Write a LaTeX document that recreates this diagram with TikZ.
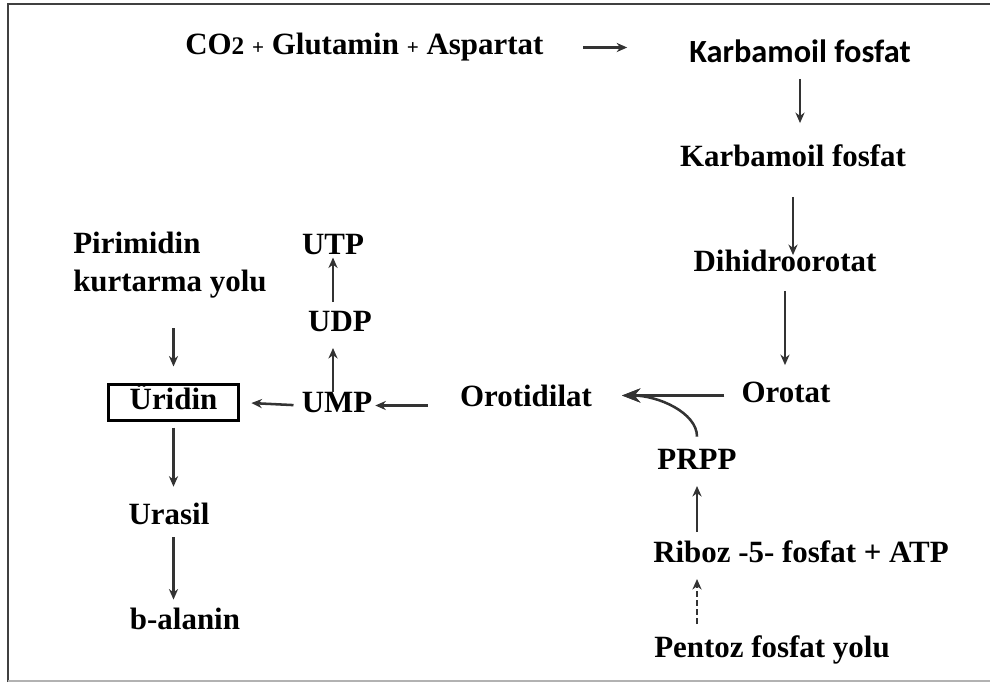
\documentclass[tikz,border=0pt]{standalone}
\usepackage{fontspec}
\setmainfont{Liberation Serif}
\newfontfamily\calfont{Carlito}[BoldFont={Carlito Bold}]
\usetikzlibrary{arrows.meta}
\definecolor{arrowgray}{HTML}{333333}
\begin{document}
\begin{tikzpicture}[x=0.025cm,y=-0.025cm,
		lbl/.style={inner sep=0pt,text height=15pt,text depth=4.4pt,font=\fontsize{22}{27}\selectfont\bfseries},
		arr/.style={-{Stealth[length=7.5pt,width=6.5pt]},line width=1.8pt,arrowgray},
		bigarr/.style={-{Stealth[length=13pt,width=10pt]},line width=1.8pt,arrowgray}]
	\useasboundingbox (0,0) rectangle (990,682);
	% frame
	\draw[black!75,line width=1.6pt] (8,682) -- (8,4) -- (990,4);
	\draw[black!30,line width=1.2pt] (8,681) -- (990,681);
	% de novo path
	\node[lbl,anchor=west] (co2) at (185,47.5) {CO{\fontsize{18}{20}\selectfont 2} {\fontsize{15}{15}\selectfont +} Glutamin {\fontsize{15}{15}\selectfont +} Aspartat};
	\node[lbl,font=\fontsize{23}{27}\selectfont\calfont\bfseries] (kf1) at (800,55.5) {Karbamoil fosfat};
	\node[lbl] (kf2) at (793,159.5) {Karbamoil fosfat};
	\node[lbl] (dih) at (785,264.5) {Dihidroorotat};
	\node[lbl] (orot) at (786,395.5) {Orotat};
	\node[lbl] (ortd) at (526,399.5) {Orotidilat};
	\node[lbl] (prpp) at (697,462.5) {PRPP};
	\node[lbl] (ribo) at (801,555.5) {Riboz -5- fosfat + ATP};
	\node[lbl] (pent) at (772,650.5) {Pentoz fosfat yolu};
	\coordinate (jn) at (622,395.5);
	\draw[arr,shorten <=28pt,shorten >=44pt] (co2.east) -- (co2.east -| kf1.west);
	\draw[arr,shorten <=6.8pt,shorten >=16pt] (kf1.south) -- (kf1.south |- kf2.north);
	\draw[arr,shorten <=16.7pt,shorten >=-3.2pt] (kf2.south) -- (kf2.south |- dih.north);
	\draw[arr,shorten <=8.9pt,shorten >=11.7pt] (dih.south) -- (dih.south |- orot.north);
	\draw[bigarr,shorten <=12pt] (orot.west) -- (jn);
	\draw[bigarr,shorten <=8.5pt] (prpp.north) to[out=90,in=0] (jn);
	\draw[arr,shorten <=6.8pt,shorten >=6.8pt] (prpp |- ribo.north) -- (prpp.south);
	\draw[arr,dash pattern=on 4pt off 2.5pt,shorten <=8.9pt,shorten >=6.8pt] (prpp |- pent.north) -- (prpp |- ribo.south);
	% nucleotides
	\node[lbl] (ump) at (337,405.5) {UMP};
	\node[lbl] (udp) at (340,324.5) {UDP};
	\node[lbl] (utp) at (333,247.5) {UTP};
	\draw[arr,shorten <=22.8pt,shorten >=2pt] (ortd.west |- ump) -- (ump.east);
	\draw[arr,shorten >=6.8pt] (utp |- ump.north) -- (utp |- udp.south);
	\draw[arr,shorten <=6pt,shorten >=-2.8pt] (utp |- udp.north) -- (utp.south);
	% salvage and degradation
	\node[lbl,draw=black,line width=2.2pt,minimum width=93pt,minimum height=25pt] (urid) at (173.5,402.5) {Üridin};
	\node[inner sep=0pt,anchor=north west,align=left,font=\fontsize{22}{27}\selectfont\bfseries] (pirim) at (73,232) {Pirimidin\\kurtarma yolu};
	\node[lbl] (uras) at (169,517.5) {Urasil};
	\node[lbl] (bala) at (185,622.5) {b-alanin};
	\draw[arr,shorten <=5.7pt,shorten >=7.8pt] (ump.west) -- (urid.east);
	\draw[arr,shorten <=21pt,shorten >=12pt] (urid |- pirim.south) -- (urid.north);
	\draw[arr,shorten <=4.3pt,shorten >=12pt] (urid.south) -- (urid.south |- uras.north);
	\draw[arr,shorten <=4.3pt,shorten >=6.4pt] (urid.south |- uras.south) -- (urid.south |- bala.north);
\end{tikzpicture}
\end{document}
